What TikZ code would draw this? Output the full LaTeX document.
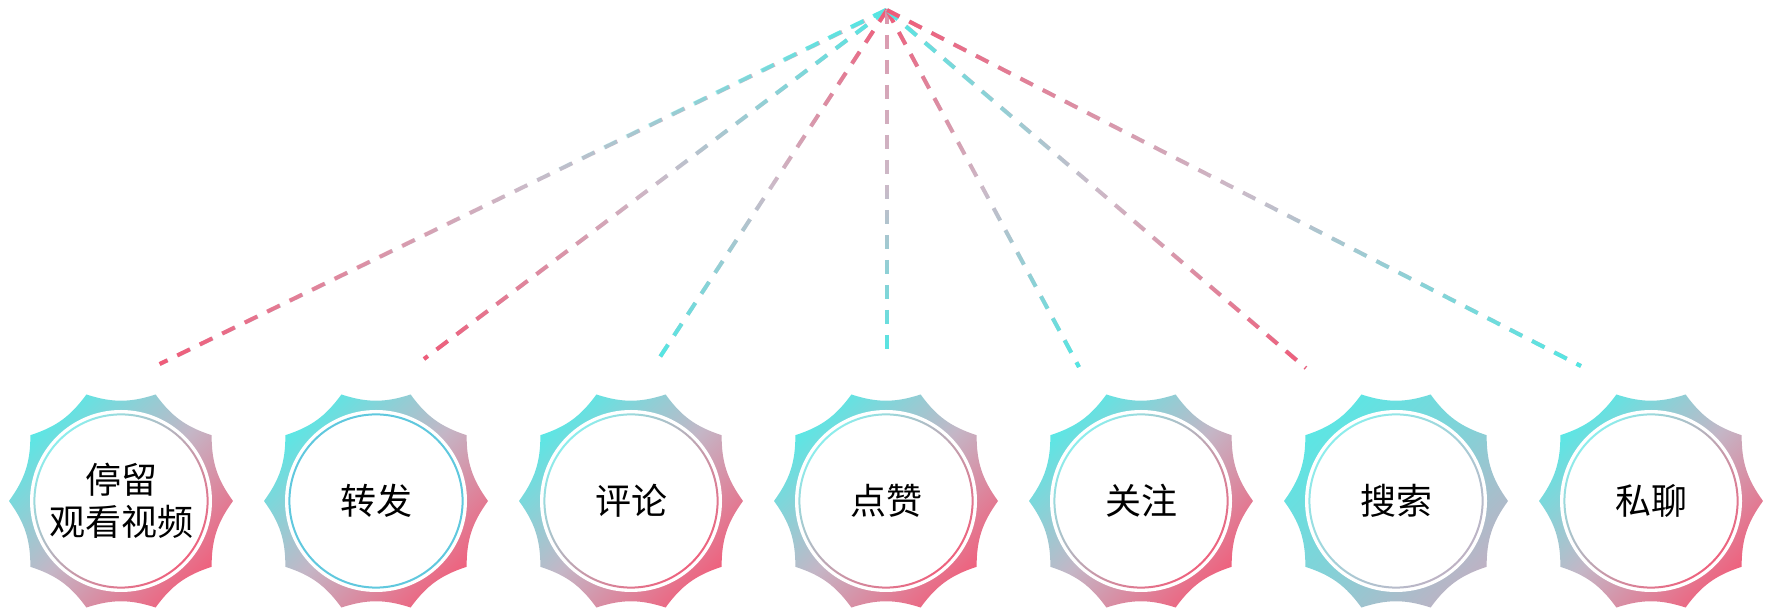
\documentclass[tikz,border=0pt]{standalone}
\usepackage{fontspec}
\setmainfont{Noto Sans CJK SC}
\usetikzlibrary{fadings}
\definecolor{sealcyan}{RGB}{92,230,228}
\definecolor{sealmauve}{RGB}{196,182,198}
\definecolor{sealpink}{RGB}{238,98,126}
\definecolor{sealgray}{RGB}{190,178,196}
\definecolor{dashcyan}{RGB}{80,232,228}
\definecolor{dashpink}{RGB}{240,90,120}
\definecolor{dashmid}{RGB}{204,186,200}
\definecolor{dashmauve}{RGB}{222,150,172}
\definecolor{ringblue}{RGB}{96,200,222}
\tikzfading[name=upper half, top color=transparent!0, bottom color=transparent!100, middle color=transparent!100]
\tikzfading[name=lower half, top color=transparent!100, bottom color=transparent!0, middle color=transparent!100]
\tikzset{
  font={\fontsize{36pt}{42pt}\selectfont},
  seal low/.store in=\sealLow, seal low=sealpink,
  seal mid/.store in=\sealMid, seal mid=sealmauve,
  ring high/.store in=\ringHigh, ring high=sealcyan!70!white,
  ring low/.store in=\ringLow, ring low=sealpink,
  seal/.pic={
    \shade[top color=sealcyan, bottom color=\sealLow, middle color=\sealMid, shading angle=45]
      (0:112) \foreach \a in {36,72,...,360} {to[bend left=18] (\a:112)} -- cycle;
    \fill[white] (0,0) circle (91);
    \shade[top color=\ringHigh, bottom color=\ringLow, shading angle=45, even odd rule]
      (0,0) circle (87.6) (0,0) circle (85.6);
  },
  dashline/.style={line width=4pt, dash pattern=on 14pt off 11pt},
  link/.style 2 args={dashline, dashmid,
    postaction={draw, #1, path fading=upper half},
    postaction={draw, #2, path fading=lower half}}
}

\begin{document}
\begin{tikzpicture}[x=1pt,y=1pt]
\useasboundingbox (0,0) rectangle (1766,609);
% meeting point and feet of the dashed lines
\coordinate (top) at (887,599);
\coordinate (f1) at (160,245);
\coordinate (f2) at (424,250);
\coordinate (f3) at (658,249);
\coordinate (f4) at (887,251);
\coordinate (f5) at (1079,242);
\coordinate (f6) at (1306,241);
\coordinate (f7) at (1581,243);
\draw[link={dashcyan}{dashpink}] (top) -- (f1);
\draw[link={dashcyan}{dashpink}] (top) -- (f2);
\draw[link={dashpink}{dashcyan}] (top) -- (f3);
\draw[link={dashmauve}{dashcyan}] (top) -- (f4);
\draw[link={dashpink}{dashcyan}] (top) -- (f5);
\draw[link={dashcyan}{dashpink}] (top) -- (f6);
\draw[link={dashpink}{dashcyan}] (top) -- (f7);
% badges
\pic at (121,108) {seal};
\node (b1) at (121,108) [align=center] {停留\\观看视频};
\pic[ring high=ringblue, ring low=ringblue] at (376,108) {seal};
\node (b2) at (376,108) {转发};
\pic at (631,108) {seal};
\node (b3) at (631,108) {评论};
\pic at (886,108) {seal};
\node (b4) at (886,108) {点赞};
\pic at (1141,108) {seal};
\node (b5) at (1141,108) {关注};
\pic[seal mid=sealcyan!60!sealgray, seal low=sealgray, ring low=sealgray] at (1396,108) {seal};
\node (b6) at (1396,108) {搜索};
\pic at (1651,108) {seal};
\node (b7) at (1651,108) {私聊};
\end{tikzpicture}
\end{document}
